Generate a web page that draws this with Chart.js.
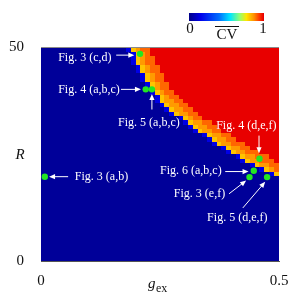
<!DOCTYPE html>
<html>
<head>
<meta charset="utf-8">
<script src="https://cdn.jsdelivr.net/npm/chart.js@4.4.1/dist/chart.umd.min.js"></script>
<style>
html,body{margin:0;padding:0;background:#fff;}
#wrap{width:297px;height:297px;}
</style>
</head>
<body>
<div id="wrap"><canvas id="map"></canvas></div>
<script>
// =========================================
// Data
// =========================================

const gMax = 0.5;
const rMax = 50;
const gStep = 0.01;
const rStep = 1;

const gTicks = [0, 0.5];
const rTicks = [0, 50];

// rows R = 20..49 : g where the band starts (first non-blue cell) and where red starts
const rowR     = [20,21,22,23,24,25,26,27,28,29,30,31,32,33,34,35,36,37,38,39,40,41,42,43,44,45,46,47,48,49];
const blueEdge = [0.49,0.47,0.45,0.43,0.42,0.40,0.39,0.37,0.36,0.35,0.33,0.32,0.31,0.30,0.28,0.27,0.26,0.25,0.25,0.24,0.23,0.23,0.22,0.22,0.21,0.21,0.20,0.20,0.20,0.19];
const redEdge  = [0.50,0.50,0.50,0.49,0.48,0.46,0.44,0.43,0.41,0.40,0.38,0.37,0.36,0.34,0.33,0.32,0.31,0.30,0.29,0.28,0.27,0.27,0.26,0.26,0.25,0.25,0.24,0.24,0.23,0.23];

// marked parameter points
const pointG = [0.008, 0.208, 0.220, 0.233, 0.459, 0.447, 0.438, 0.475];
const pointR = [19.7, 48.4, 40.1, 40.1, 23.9, 21.1, 19.6, 19.6];

const noteText = ["Fig. 3 (c,d)","Fig. 4 (a,b,c)","Fig. 5 (a,b,c)","Fig. 4 (d,e,f)","Fig. 6 (a,b,c)","Fig. 3 (e,f)","Fig. 5 (d,e,f)","Fig. 3 (a,b)"];

// =========================================
// Colour map
// =========================================

const cmapStops = [
    [0,    [0,0,140]],
    [0.15, [0,0,235]],
    [0.4,  [0,110,255]],
    [0.55, [0,230,255]],
    [0.68, [150,255,110]],
    [0.77, [255,230,0]],
    [0.87, [255,145,0]],
    [0.94, [255,60,0]],
    [1,    [232,0,0]]
];

function cmap(v){
    for(let k=1;k<cmapStops.length;k++){
        const a=cmapStops[k-1], b=cmapStops[k];
        if(v<=b[0]){
            const t=(v-a[0])/(b[0]-a[0]);
            const c=a[1].map((x,n)=>Math.round(x+(b[1][n]-x)*t));
            return "rgb("+c.join(",")+")";
        }
    }
    return "rgb(232,0,0)";
}

function cellValue(i,j){
    const k=rowR.indexOf(j);
    if(k<0) return 0.02;
    const b=Math.round(blueEdge[k]/gStep);
    const r=Math.round(redEdge[k]/gStep);
    if(i<b-1) return 0.02;
    if(i===b-1) return 0.14;
    if(i>=r) return 1;
    if(i===b) return 0.81;
    return (i-b)<(r-b)/2 ? 0.86 : 0.905;
}

// annotation layout, in data units: text left/middle, arrow from -> to
const notes = [
    {tx:0.036,ty:47.4, a:[0.158,48.1,0.196,48.1]},
    {tx:0.036,ty:40.1, a:[0.168,40.1,0.210,40.1]},
    {tx:0.162,ty:32.2, a:[0.233,35.4,0.233,39.0]},
    {tx:0.368,ty:31.5, a:[0.458,29.3,0.458,25.2]},
    {tx:0.250,ty:21.1, a:[0.387,20.9,0.436,20.9]},
    {tx:0.279,ty:15.7, a:[0.395,15.7,0.431,18.8]},
    {tx:0.349,ty:10.1, a:[0.424,12.4,0.471,18.5]},
    {tx:0.071,ty:19.6, a:[0.057,19.7,0.017,19.7]}
];

const serif = "'Liberation Serif','DejaVu Serif',serif";

function arrow(ctx,x1,y1,x2,y2){
    const ang=Math.atan2(y2-y1,x2-x1);
    const hl=6, hw=2.6;
    ctx.beginPath();
    ctx.moveTo(x1,y1);
    ctx.lineTo(x2-Math.cos(ang)*hl*0.8,y2-Math.sin(ang)*hl*0.8);
    ctx.stroke();
    ctx.beginPath();
    ctx.moveTo(x2,y2);
    ctx.lineTo(x2-Math.cos(ang)*hl-Math.sin(ang)*hw,y2-Math.sin(ang)*hl+Math.cos(ang)*hw);
    ctx.lineTo(x2-Math.cos(ang)*hl+Math.sin(ang)*hw,y2-Math.sin(ang)*hl-Math.cos(ang)*hw);
    ctx.closePath();
    ctx.fill();
}

// =========================================
// Heatmap plugin
// =========================================

const heatPlugin = {
    id:"heat",
    beforeDatasetsDraw(chart){
        const ctx=chart.ctx, xs=chart.scales.x, ys=chart.scales.y, ca=chart.chartArea;
        const nCols=Math.round(gMax/gStep), nRows=Math.round(rMax/rStep);
        ctx.save();
        ctx.beginPath();
        ctx.rect(ca.left,ca.top,ca.right-ca.left,ca.bottom-ca.top);
        ctx.clip();
        for(let j=0;j<nRows;j++){
            for(let i=0;i<nCols;i++){
                const x0=Math.floor(xs.getPixelForValue(i*gStep));
                const x1=Math.ceil(xs.getPixelForValue((i+1)*gStep));
                const y0=Math.floor(ys.getPixelForValue((j+1)*rStep));
                const y1=Math.ceil(ys.getPixelForValue(j*rStep));
                ctx.fillStyle=cmap(cellValue(i,j));
                ctx.fillRect(x0,y0,x1-x0,y1-y0);
            }
        }
        ctx.restore();

        // top frame line
        ctx.save();
        ctx.strokeStyle="#8a8a8a";
        ctx.lineWidth=1;
        ctx.beginPath();
        ctx.moveTo(ca.left,ca.top+0.5);
        ctx.lineTo(ca.right,ca.top+0.5);
        ctx.stroke();

        // annotations
        ctx.fillStyle="#ffffff";
        ctx.strokeStyle="#ffffff";
        ctx.lineWidth=1;
        ctx.font="12px "+serif;
        ctx.textBaseline="middle";
        ctx.textAlign="left";
        notes.forEach((n,k)=>{
            ctx.fillText(noteText[k],xs.getPixelForValue(n.tx),ys.getPixelForValue(n.ty));
            arrow(ctx,xs.getPixelForValue(n.a[0]),ys.getPixelForValue(n.a[1]),
                      xs.getPixelForValue(n.a[2]),ys.getPixelForValue(n.a[3]));
        });
        ctx.restore();
    },
    afterDraw(chart){
        const ctx=chart.ctx;
        ctx.save();

        // colour bar
        const bx=189, bw=75, by=13, bh=8;
        for(let p=0;p<bw;p++){
            ctx.fillStyle=cmap(p/(bw-1));
            ctx.fillRect(bx+p,by,1,bh);
        }
        ctx.fillStyle="#111";
        ctx.font="15px "+serif;
        ctx.textBaseline="middle";
        ctx.textAlign="center";
        ctx.fillText("0",bx+1,29);
        ctx.fillText("1",bx+bw-1,29);
        ctx.fillText("CV",227,35);
        ctx.fillRect(215,26,24,1);

        // axis titles
        ctx.font="italic 15px "+serif;
        ctx.fillText("R",20,155);
        ctx.textAlign="left";
        ctx.fillText("g",148,284);
        ctx.font="12px "+serif;
        ctx.fillText("ex",156,289);
        ctx.restore();
    }
};

// =========================================
// Chart
// =========================================

new Chart(document.getElementById("map"),{

    type:"scatter",

    data:{
        datasets:[{
            data:pointG.map((g,k)=>({x:g,y:pointR[k]})),
            backgroundColor:"#22e622",
            borderColor:"#22e622",
            pointRadius:3.2,
            borderWidth:0
        }]
    },

    options:{
        responsive:true,
        maintainAspectRatio:false,
        animation:false,
        layout:{padding:{top:47,right:18,left:0,bottom:0}},
        plugins:{
            legend:{display:false},
            tooltip:{enabled:false}
        },
        scales:{
            x:{
                type:"linear",
                min:0,
                max:gMax,
                afterBuildTicks:s=>{s.ticks=gTicks.map(v=>({value:v}));},
                afterFit:s=>{s.height=36;},
                grid:{display:false},
                border:{display:true,color:"#555",width:1},
                ticks:{
                    color:"#111",
                    font:{family:serif,size:15},
                    padding:3,
                    maxRotation:0,
                    callback:v=>String(v)
                }
            },
            y:{
                type:"linear",
                min:0,
                max:rMax,
                afterBuildTicks:s=>{s.ticks=rTicks.map(v=>({value:v}));},
                afterFit:s=>{s.width=41;},
                grid:{display:false},
                border:{display:true,color:"#555",width:1},
                ticks:{
                    color:"#111",
                    font:{family:serif,size:15},
                    padding:9,
                    callback:v=>String(v)
                }
            }
        }
    },

    plugins:[heatPlugin]

});
</script>
</body>
</html>
